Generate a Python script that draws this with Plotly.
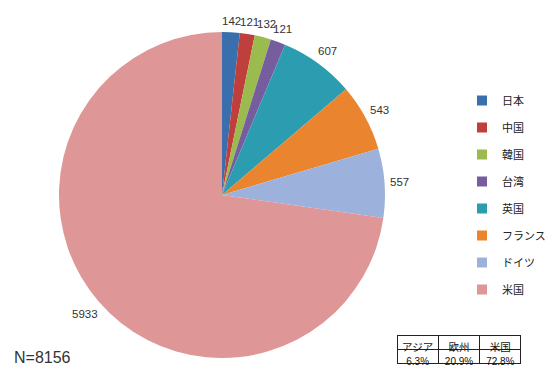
import math
import plotly.graph_objects as go

countries = ["日本", "中国", "韓国", "台湾", "英国", "フランス", "ドイツ", "米国"]
counts = [142, 121, 132, 121, 607, 543, 557, 5933]
colors = ["#3a6fae", "#bf3f3d", "#9bbb4f", "#765e9e", "#2c9db0", "#ea842e", "#9cb2dc", "#df9697"]

table_header = ["アジア", "欧州", "米国"]
table_values = ["6.3%", "20.9%", "72.8%"]
total_label = "N=8156"

JP = "Noto Sans CJK JP"
LAT = "Liberation Sans"
W, H = 551, 366
CX, CY, R = 222, 195, 163   # pie centre / radius in pixels

fig = go.Figure()
fig.add_trace(go.Pie(
    labels=countries, values=counts, sort=False, direction="clockwise", rotation=0,
    marker=dict(colors=colors, line=dict(width=0)),
    textinfo="none", showlegend=False, hoverinfo="label+value",
    domain=dict(x=[(CX - R) / W, (CX + R) / W], y=[1 - (CY + R) / H, 1 - (CY - R) / H]),
))

# value labels outside slices, positioned from the cumulative slice angles
total = sum(counts)
cum = 0
for v in counts:
    mid = (cum + v / 2) / total * 2 * math.pi
    cum += v
    s, c = math.sin(mid), math.cos(mid)
    txt = str(v)
    tw, th = 6.4 * len(txt), 12
    dist = R + 5 + abs(s) * tw / 2 + abs(c) * th / 2
    px, py = CX + dist * s, CY - dist * c
    fig.add_annotation(text=txt, x=px / W, y=1 - py / H, xref="paper", yref="paper",
                       xanchor="center", yanchor="middle", showarrow=False,
                       font=dict(family=LAT, size=11.5, color="#333"))

# legend entries
for name, col in zip(countries, colors):
    fig.add_trace(go.Scatter(x=[None], y=[None], mode="markers", name=name,
                             legendgroup=name, hoverinfo="skip",
                             marker=dict(symbol="square", size=10, color=col)))

fig.add_trace(go.Table(
    domain=dict(x=[397 / W, 522 / W], y=[0.0, 1 - 335 / H]),
    columnwidth=[1, 1, 1],
    header=dict(values=table_header, height=14, align="center",
                font=dict(family=JP, size=10.5, color="#111"),
                fill=dict(color="white"), line=dict(color="#222", width=1)),
    cells=dict(values=[[v] for v in table_values], height=14, align="center",
               font=dict(family=LAT, size=10, color="#111"),
               fill=dict(color="white"), line=dict(color="#222", width=1)),
))
fig.add_annotation(text=total_label, x=12 / W, y=-2 / H, xref="paper", yref="paper",
                   xanchor="left", yanchor="bottom", showarrow=False,
                   font=dict(family=LAT, size=16, color="#333"))
fig.update_layout(
    width=W, height=H, margin=dict(l=0, r=0, t=0, b=0),
    paper_bgcolor="white", plot_bgcolor="white",
    xaxis=dict(visible=False), yaxis=dict(visible=False),
    showlegend=True,
    legend=dict(x=1.0, y=1 - 86 / H, xanchor="right", yanchor="top",
                font=dict(family=JP, size=11, color="#222"),
                traceorder="grouped", tracegroupgap=8,
                itemwidth=30, bgcolor="rgba(0,0,0,0)"),
)
fig.write_html("out.html", config={"displayModeBar": False},
               post_script="document.body.style.margin='0';")
